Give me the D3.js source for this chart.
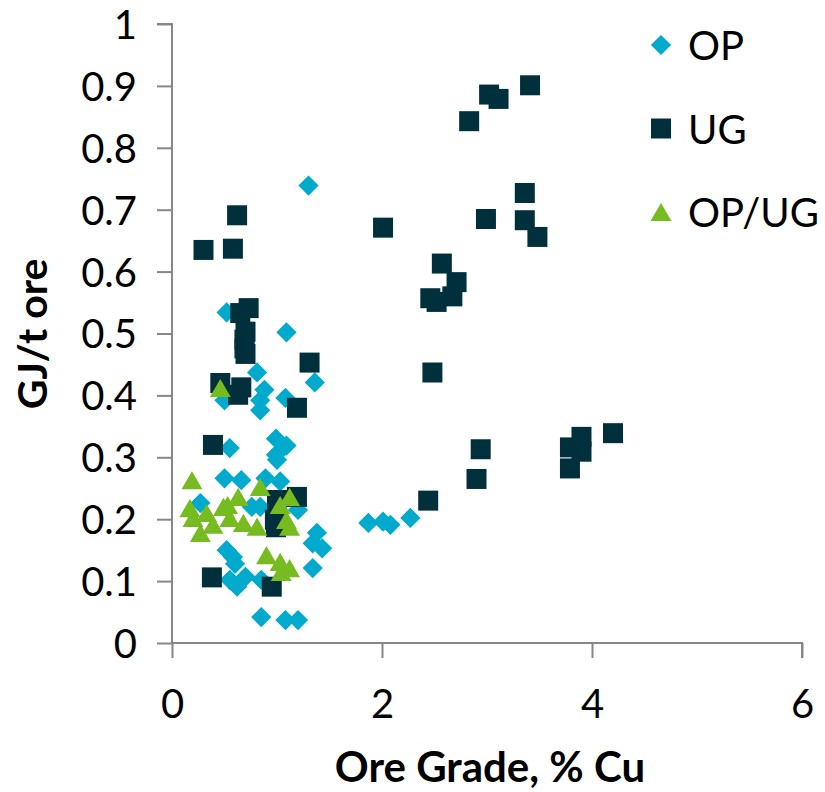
<!DOCTYPE html>
<html>
<head>
<meta charset="utf-8">
<script src="https://cdn.jsdelivr.net/npm/d3@7"></script>
<style>
  body { margin: 0; background: #fff; }
  text { font-family: Lato, "Open Sans", sans-serif; fill: #000; }
</style>
</head>
<body>
<svg id="chart"></svg>
<script>
// OP = open pit, UG = underground
const opGrade = [1.30, 0.52, 1.09, 0.81, 0.88, 1.36, 1.08, 0.50, 0.84, 0.84, 0.55, 0.99, 1.09, 0.99, 1.00,
  0.50, 0.66, 0.89, 1.03, 0.27, 0.84, 0.76, 1.20, 1.87, 2.01, 2.08, 2.27, 1.38, 1.43, 1.34, 1.34,
  0.52, 0.58, 0.55, 0.70, 0.62, 0.85, 0.85, 1.08, 1.20, 0.60];
const opEnergy = [0.739, 0.534, 0.502, 0.437, 0.409, 0.421, 0.396, 0.392, 0.392, 0.376, 0.315, 0.330, 0.319, 0.304, 0.296,
  0.266, 0.263, 0.266, 0.261, 0.226, 0.220, 0.220, 0.215, 0.194, 0.196, 0.191, 0.202, 0.178, 0.153, 0.161, 0.121,
  0.150, 0.139, 0.102, 0.107, 0.091, 0.102, 0.042, 0.037, 0.037, 0.128];

const ugGrade = [0.30, 0.62, 0.58, 2.01, 2.83, 3.02, 3.11, 3.41, 3.36, 2.99, 3.36, 3.48, 2.57, 2.71, 2.46, 2.52,
  2.67, 2.48, 2.94, 2.90, 2.44, 4.20, 3.90, 3.79, 3.90, 3.79, 0.73, 0.65, 0.70, 0.69, 0.69, 0.70, 1.31,
  0.46, 0.66, 0.63, 1.19, 0.39, 1.00, 1.19, 0.98, 0.99, 0.38, 0.95];
const ugEnergy = [0.635, 0.691, 0.637, 0.671, 0.843, 0.886, 0.879, 0.901, 0.727, 0.685, 0.683, 0.656, 0.613, 0.583, 0.557, 0.551,
  0.560, 0.437, 0.313, 0.265, 0.230, 0.339, 0.333, 0.316, 0.309, 0.282, 0.541, 0.533, 0.503, 0.490, 0.476, 0.467, 0.453,
  0.420, 0.413, 0.401, 0.380, 0.320, 0.231, 0.236, 0.199, 0.187, 0.106, 0.091];

const mixGrade = [0.46, 0.19, 0.17, 0.20, 0.27, 0.33, 0.39, 0.49, 0.53, 0.63, 0.55, 0.68, 0.81, 0.84,
  1.03, 1.12, 1.09, 1.12, 0.90, 1.03, 1.04, 1.12];
const mixEnergy = [0.412, 0.263, 0.218, 0.202, 0.178, 0.210, 0.191, 0.220, 0.223, 0.236, 0.202, 0.194, 0.188, 0.252,
  0.223, 0.236, 0.199, 0.188, 0.142, 0.131, 0.115, 0.121];

const seriesNames = ['OP', 'UG', 'OP/UG'];
const xTicks = [0, 2, 4, 6];
const yTicks = [0, 0.1, 0.2, 0.3, 0.4, 0.5, 0.6, 0.7, 0.8, 0.9, 1];

const W = 825, H = 792;
const M = { left: 172, right: 23, top: 24, bottom: 149 };

const svg = d3.select('#chart').attr('width', W).attr('height', H);

const x = d3.scaleLinear().domain([0, 6]).range([M.left, W - M.right]);
const y = d3.scaleLinear().domain([0, 1]).range([H - M.bottom, M.top]);

// triangle centred on its bounding box, like Excel markers
const triangle = {
  draw(ctx, size) {
    const w = Math.sqrt(size * 4 / Math.sqrt(3));
    const h = w * Math.sqrt(3) / 2;
    ctx.moveTo(0, -h / 2);
    ctx.lineTo(w / 2, h / 2);
    ctx.lineTo(-w / 2, h / 2);
    ctx.closePath();
  }
};

const series = [
  { name: seriesNames[0], xs: opGrade, ys: opEnergy, color: '#00aacc', type: d3.symbolSquare, size: 205, rot: 45 },
  { name: seriesNames[1], xs: ugGrade, ys: ugEnergy, color: '#00303c', type: d3.symbolSquare, size: 400, rot: 0 },
  { name: seriesNames[2], xs: mixGrade, ys: mixEnergy, color: '#76bc21', type: triangle, size: 190, rot: 0 }
];

// axes
const axisColor = '#878787';
const gx = svg.append('g')
  .attr('transform', `translate(0,${y(0)})`)
  .call(d3.axisBottom(x).tickValues(xTicks).tickSize(15).tickFormat(d3.format('d')));
const gy = svg.append('g')
  .attr('transform', `translate(${x(0)},0)`)
  .call(d3.axisLeft(y).tickValues(yTicks).tickSize(15).tickFormat(d => d === 0 || d === 1 ? String(d) : d3.format('.1f')(d)));

[gx, gy].forEach(g => {
  g.select('.domain').attr('stroke', axisColor).attr('stroke-width', 2);
  g.selectAll('.tick line').attr('stroke', axisColor).attr('stroke-width', 2);
  g.selectAll('.tick text').attr('font-size', 40).attr('fill', '#000')
    .style('font-family', 'Lato, "Open Sans", sans-serif');
});
gx.select('.domain').attr('d', `M${x(0)},0H${x(6)}V15`);
gy.select('.domain').attr('d', `M-15,${y(1)}H0V${y(0)}`);
gx.selectAll('.tick text').attr('dy', null).attr('y', 75);
gy.selectAll('.tick text').attr('x', -35).attr('dy', '0.36em');

// markers, drawn in series order so triangles sit on top
series.forEach(s => {
  const sym = d3.symbol().type(s.type).size(s.size);
  svg.append('g')
    .selectAll('path')
    .data(d3.range(s.xs.length))
    .join('path')
    .attr('d', sym)
    .attr('transform', i => `translate(${x(s.xs[i])},${y(s.ys[i])}) rotate(${s.rot})`)
    .attr('fill', s.color);
});

// legend
const legend = svg.append('g').attr('transform', 'translate(661,45)');
series.forEach((s, i) => {
  const row = legend.append('g').attr('transform', `translate(0,${i * 83.5})`);
  row.append('path')
    .attr('d', d3.symbol().type(s.type).size(s.size))
    .attr('transform', `rotate(${s.rot})`)
    .attr('fill', s.color);
  row.append('text')
    .attr('x', 27)
    .attr('y', 15)
    .attr('font-size', 40)
    .text(s.name);
});

// axis titles
svg.append('text')
  .attr('x', 490)
  .attr('y', 782)
  .attr('text-anchor', 'middle')
  .attr('font-size', 42)
  .attr('font-weight', 'bold')
  .text('Ore Grade, % Cu');

svg.append('text')
  .attr('transform', 'translate(47,334) rotate(-90)')
  .attr('text-anchor', 'middle')
  .attr('font-size', 41)
  .attr('font-weight', 'bold')
  .text('GJ/t ore');
</script>
</body>
</html>
